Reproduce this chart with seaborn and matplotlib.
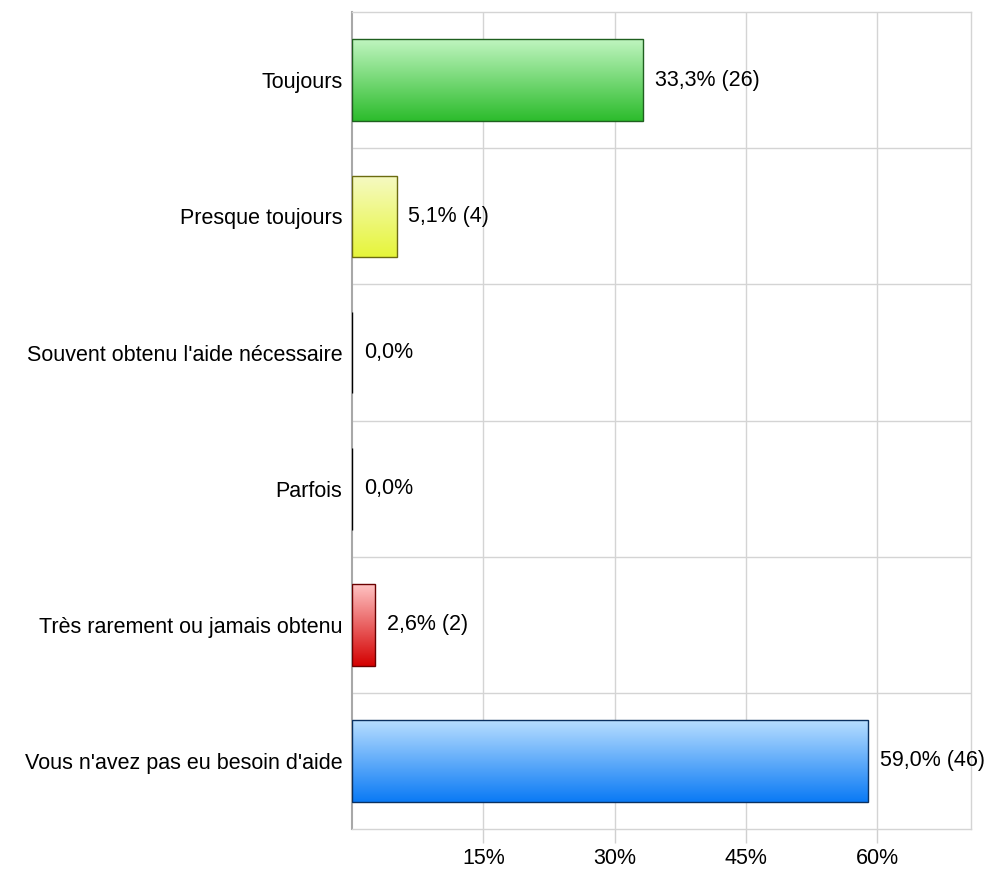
import numpy as np
import pandas as pd
import matplotlib
matplotlib.use("Agg")
import matplotlib.pyplot as plt
from matplotlib.colors import LinearSegmentedColormap
import seaborn as sns

# data
categories = [
    "Toujours",
    "Presque toujours",
    "Souvent obtenu l'aide nécessaire",
    "Parfois",
    "Très rarement ou jamais obtenu",
    "Vous n'avez pas eu besoin d'aide",
]
percents = [33.3, 5.1, 0.0, 0.0, 2.6, 59.0]
counts = [26, 4, 0, 0, 2, 46]
x_ticks = [15, 30, 45, 60]

# gradient colours (top, bottom, edge) per bar
grad_top = ["#c0f5c0", "#f6fac4", "#ffffff", "#ffffff", "#ffc4c4", "#b8deff"]
grad_bottom = ["#2cbc2c", "#e6f53a", "#000000", "#000000", "#d40000", "#0a7af5"]
edges = ["#1f5f1f", "#6b6b10", "#000000", "#000000", "#6b0000", "#0a3060"]

df = pd.DataFrame({"category": categories, "percent": percents})

sns.set_style("white")
plt.rcParams["font.family"] = ["Liberation Sans", "DejaVu Sans"]
plt.rcParams["text.color"] = "black"
plt.rcParams["xtick.color"] = "black"
plt.rcParams["ytick.color"] = "black"

FS = 15.5

fig = plt.figure(figsize=(9.9, 8.69), dpi=100)
ax = fig.add_axes([0.3556, 0.046, 0.6254, 0.94])

sns.barplot(data=df, x="percent", y="category", orient="h", width=0.6,
            color="white", ax=ax, zorder=3)

ax.set_xlim(0, 70.75)
ax.set_ylim(5.5, -0.5)

# gradient fill clipped to each bar
for i, patch in enumerate(ax.patches):
    patch.set_edgecolor(edges[i])
    patch.set_linewidth(1.0)
    x0, y0 = patch.get_x(), patch.get_y()
    w, h = patch.get_width(), patch.get_height()
    if w <= 0:
        patch.set_edgecolor("black")
        continue
    cmap = LinearSegmentedColormap.from_list(f"g{i}", [grad_top[i], grad_bottom[i]])
    grad = np.linspace(0, 1, 256).reshape(-1, 1)
    im = ax.imshow(grad, cmap=cmap, aspect="auto", extent=(x0, x0 + w, y0 + h, y0),
                   zorder=3.5, interpolation="bicubic")
    im.set_clip_path(patch)
    patch.set_facecolor("none")
    patch.set_zorder(4)

ax.set_xlim(0, 70.75)
ax.set_ylim(5.5, -0.5)

# value labels
for i, (p, c) in enumerate(zip(percents, counts)):
    txt = f"{p:.1f}%".replace(".", ",")
    if c > 0:
        txt += f" ({c})"
    ax.text(p + 1.35, i, txt, va="center", ha="left", fontsize=FS, zorder=5)

# ticks and grid
ax.set_xticks(x_ticks)
ax.set_xticklabels([f"{t}%" for t in x_ticks], fontsize=FS)
ax.set_yticks(range(len(categories)))
ax.set_yticklabels(categories, fontsize=FS)
ax.set_yticks(np.arange(0.5, len(categories) - 1, 1), minor=True)
ax.tick_params(axis="x", bottom=True, length=10, color="#d0d0d0", width=1, pad=4)
ax.tick_params(axis="y", left=False, length=0, pad=7)
ax.tick_params(axis="y", which="minor", length=0)
ax.grid(axis="x", which="major", color="#d4d4d4", linewidth=1, zorder=0)
ax.grid(axis="y", which="minor", color="#d4d4d4", linewidth=1, zorder=0)
ax.set_axisbelow(True)
ax.set_xlabel("")
ax.set_ylabel("")

for side in ["top", "right", "bottom"]:
    ax.spines[side].set_color("#d4d4d4")
    ax.spines[side].set_linewidth(1)
ax.spines["left"].set_color("#a8a8a8")
ax.spines["left"].set_linewidth(1.5)

fig.savefig("out.png", dpi=100)
